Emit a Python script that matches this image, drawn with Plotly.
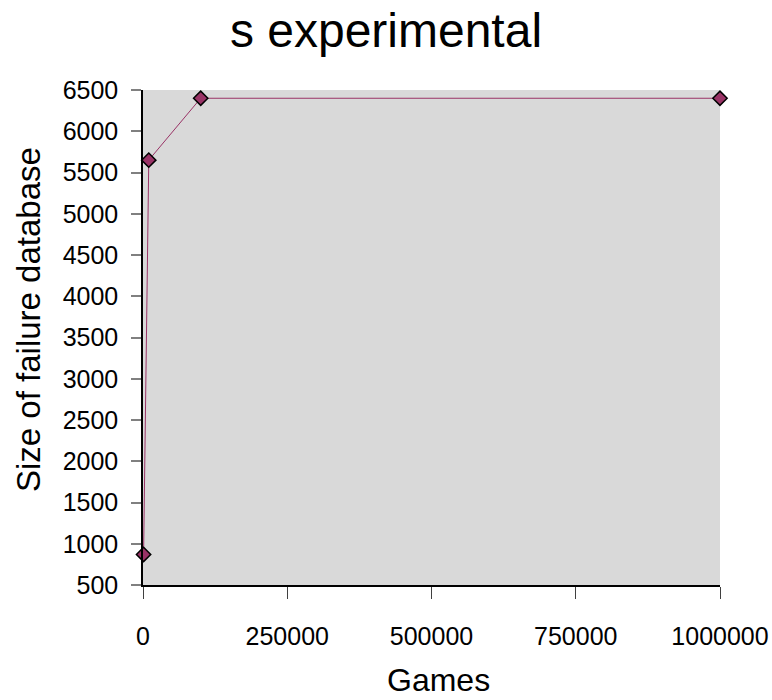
import plotly.graph_objects as go

games = [1000, 10000, 100000, 1000000]
db_size = [870, 5650, 6400, 6400]
x_ticks = [0, 250000, 500000, 750000, 1000000]
x_tick_labels = ["0", "250000", "500000", "750000", "1000000"]
y_ticks = list(range(500, 6501, 500))

FONT = "Liberation Sans, Arial, sans-serif"

fig = go.Figure()
fig.add_trace(go.Scatter(
    x=games, y=db_size, mode="lines+markers",
    line=dict(color="#993366", width=1),
    marker=dict(symbol="diamond", size=11, color="#993366",
                line=dict(color="#000000", width=1.5)),
    cliponaxis=False, showlegend=False,
))

fig.update_layout(
    width=772, height=700,
    margin=dict(l=143, r=52, t=90, b=115, autoexpand=False),
    paper_bgcolor="white", plot_bgcolor="#d9d9d9",
    font=dict(family=FONT, color="black"),
    title=dict(text="s experimental", x=0.5, xanchor="center",
               y=1 - 30 / 700, yanchor="middle",
               font=dict(family=FONT, size=48, color="black")),
    xaxis=dict(range=[0, 1000000], tickvals=x_ticks, ticktext=x_tick_labels,
               showgrid=False, zeroline=False, showline=True,
               linecolor="black", linewidth=1.5,
               ticks="outside", ticklen=12, tickcolor="#404040", tickwidth=1,
               ticklabelstandoff=16,
               tickfont=dict(family=FONT, size=25, color="black")),
    yaxis=dict(range=[500, 6500], tickvals=y_ticks,
               showgrid=False, zeroline=False, showline=True,
               linecolor="black", linewidth=1.5,
               ticks="outside", ticklen=10, tickcolor="#808080", tickwidth=1.5,
               ticklabelstandoff=8,
               tickfont=dict(family=FONT, size=25, color="black")),
    annotations=[
        dict(text="Size of failure database", xref="paper", yref="paper",
             x=0, xshift=-115, y=(585 - 320) / 495, textangle=-90,
             xanchor="center", yanchor="middle", showarrow=False,
             font=dict(family=FONT, size=33, color="black")),
        dict(text="Games", xref="paper", yref="paper",
             x=(438 - 143) / 577, y=(585 - 680) / 495,
             xanchor="center", yanchor="middle", showarrow=False,
             font=dict(family=FONT, size=32, color="black")),
    ],
)

fig.write_html("out.html",
               config={"displayModeBar": False},
               post_script="document.body.style.margin='0';document.body.style.padding='0';")
